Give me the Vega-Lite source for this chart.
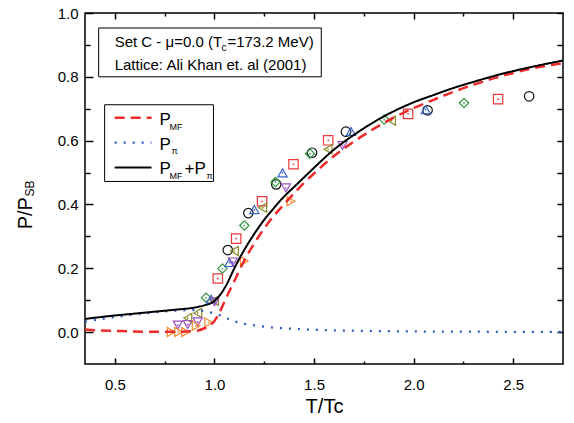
{
  "$schema": "https://vega.github.io/schema/vega-lite/v6.json",
  "width": 478,
  "height": 351,
  "autosize": {"type": "none"},
  "padding": {"left": 85, "top": 13, "right": 11, "bottom": 59},
  "background": "white",
  "config": {
    "view": {"stroke": "black", "strokeWidth": 1.5},
    "font": "Liberation Sans",
    "axis": {"grid": false, "domain": false, "labelFont": "Liberation Sans", "titleFont": "Liberation Sans", "labelColor": "black", "tickColor": "black", "titleColor": "black", "labelFontSize": 15, "tickWidth": 1.5, "titleFontWeight": "normal"}
  },
  "datasets": {
    "lattice": [
      {"T": 1.067, "P": 0.257, "set": "s1"}, {"T": 1.17, "P": 0.373, "set": "s1"}, {"T": 1.31, "P": 0.463, "set": "s1"}, {"T": 1.49, "P": 0.562, "set": "s1"}, {"T": 1.66, "P": 0.628, "set": "s1"}, {"T": 2.07, "P": 0.695, "set": "s1"}, {"T": 2.58, "P": 0.739, "set": "s1"},
      {"T": 1.017, "P": 0.168, "set": "s2"}, {"T": 1.109, "P": 0.293, "set": "s2"}, {"T": 1.239, "P": 0.41, "set": "s2"}, {"T": 1.397, "P": 0.526, "set": "s2"}, {"T": 1.571, "P": 0.601, "set": "s2"}, {"T": 1.972, "P": 0.684, "set": "s2"}, {"T": 2.424, "P": 0.73, "set": "s2"},
      {"T": 0.958, "P": 0.108, "set": "s3"}, {"T": 1.04, "P": 0.199, "set": "s3"}, {"T": 1.15, "P": 0.334, "set": "s3"}, {"T": 1.306, "P": 0.47, "set": "s3"}, {"T": 1.48, "P": 0.559, "set": "s3"}, {"T": 1.852, "P": 0.666, "set": "s3"}, {"T": 2.253, "P": 0.718, "set": "s3"},
      {"T": 0.983, "P": 0.103, "set": "s4"}, {"T": 1.075, "P": 0.218, "set": "s4"}, {"T": 1.2, "P": 0.384, "set": "s4"}, {"T": 1.342, "P": 0.499, "set": "s4"}, {"T": 1.685, "P": 0.629, "set": "s4"}, {"T": 2.061, "P": 0.697, "set": "s4"},
      {"T": 0.866, "P": 0.044, "set": "s5"}, {"T": 0.916, "P": 0.06, "set": "s5"}, {"T": 1.0, "P": 0.098, "set": "s5"}, {"T": 1.1, "P": 0.254, "set": "s5"}, {"T": 1.242, "P": 0.39, "set": "s5"}, {"T": 1.57, "P": 0.573, "set": "s5"}, {"T": 1.889, "P": 0.663, "set": "s5"},
      {"T": 0.816, "P": 0.022, "set": "s6"}, {"T": 0.866, "P": 0.024, "set": "s6"}, {"T": 0.916, "P": 0.032, "set": "s6"}, {"T": 1.0, "P": 0.095, "set": "s6"}, {"T": 1.092, "P": 0.22, "set": "s6"}, {"T": 1.359, "P": 0.452, "set": "s6"}, {"T": 1.643, "P": 0.585, "set": "s6"},
      {"T": 0.783, "P": 0.0, "set": "s7"}, {"T": 0.82, "P": 0.0, "set": "s7"}, {"T": 0.855, "P": 0.0, "set": "s7"}, {"T": 0.908, "P": 0.02, "set": "s7"}, {"T": 0.971, "P": 0.03, "set": "s7"}, {"T": 1.15, "P": 0.223, "set": "s7"}, {"T": 1.384, "P": 0.41, "set": "s7"}
    ],
    "curves": [
      {"T": 0.35, "P": 0.008, "s": "mf", "g": "c"}, {"T": 0.4, "P": 0.006, "s": "mf", "g": "c"}, {"T": 0.5, "P": 0.004, "s": "mf", "g": "c"}, {"T": 0.6, "P": 0.002, "s": "mf", "g": "c"}, {"T": 0.7, "P": 0.001, "s": "mf", "g": "c"}, {"T": 0.8, "P": 0.001, "s": "mf", "g": "c"}, {"T": 0.9, "P": 0.003, "s": "mf", "g": "c"}, {"T": 0.95, "P": 0.012, "s": "mf", "g": "c"}, {"T": 0.98, "P": 0.022, "s": "mf", "g": "c"}, {"T": 1.0, "P": 0.035, "s": "mf", "g": "c"}, {"T": 1.02, "P": 0.055, "s": "mf", "g": "c"}, {"T": 1.05, "P": 0.095, "s": "mf", "g": "c"}, {"T": 1.08, "P": 0.135, "s": "mf", "g": "c"}, {"T": 1.1, "P": 0.16, "s": "mf", "g": "c"}, {"T": 1.15, "P": 0.225, "s": "mf", "g": "c"}, {"T": 1.2, "P": 0.278, "s": "mf", "g": "c"}, {"T": 1.25, "P": 0.325, "s": "mf", "g": "c"}, {"T": 1.3, "P": 0.366, "s": "mf", "g": "c"}, {"T": 1.35, "P": 0.401, "s": "mf", "g": "c"}, {"T": 1.4, "P": 0.435, "s": "mf", "g": "c"}, {"T": 1.45, "P": 0.468, "s": "mf", "g": "c"}, {"T": 1.5, "P": 0.497, "s": "mf", "g": "c"}, {"T": 1.6, "P": 0.552, "s": "mf", "g": "c"}, {"T": 1.7, "P": 0.597, "s": "mf", "g": "c"}, {"T": 1.8, "P": 0.637, "s": "mf", "g": "c"}, {"T": 1.9, "P": 0.672, "s": "mf", "g": "c"}, {"T": 2.0, "P": 0.702, "s": "mf", "g": "c"}, {"T": 2.1, "P": 0.728, "s": "mf", "g": "c"}, {"T": 2.2, "P": 0.753, "s": "mf", "g": "c"}, {"T": 2.3, "P": 0.775, "s": "mf", "g": "c"}, {"T": 2.4, "P": 0.795, "s": "mf", "g": "c"}, {"T": 2.5, "P": 0.812, "s": "mf", "g": "c"}, {"T": 2.6, "P": 0.827, "s": "mf", "g": "c"}, {"T": 2.7, "P": 0.838, "s": "mf", "g": "c"}, {"T": 2.75, "P": 0.843, "s": "mf", "g": "c"},
      {"T": 0.35, "P": 0.033, "s": "pi", "g": "c"}, {"T": 0.4, "P": 0.038, "s": "pi", "g": "c"}, {"T": 0.5, "P": 0.047, "s": "pi", "g": "c"}, {"T": 0.6, "P": 0.055, "s": "pi", "g": "c"}, {"T": 0.7, "P": 0.062, "s": "pi", "g": "c"}, {"T": 0.8, "P": 0.067, "s": "pi", "g": "c"}, {"T": 0.9, "P": 0.069, "s": "pi", "g": "c"}, {"T": 0.95, "P": 0.066, "s": "pi", "g": "c"}, {"T": 1.0, "P": 0.058, "s": "pi", "g": "c"}, {"T": 1.03, "P": 0.052, "s": "pi", "g": "c"}, {"T": 1.07, "P": 0.041, "s": "pi", "g": "c"}, {"T": 1.1, "P": 0.034, "s": "pi", "g": "c"}, {"T": 1.15, "P": 0.026, "s": "pi", "g": "c"}, {"T": 1.2, "P": 0.021, "s": "pi", "g": "c"}, {"T": 1.3, "P": 0.014, "s": "pi", "g": "c"}, {"T": 1.4, "P": 0.01, "s": "pi", "g": "c"}, {"T": 1.5, "P": 0.007, "s": "pi", "g": "c"}, {"T": 1.75, "P": 0.004, "s": "pi", "g": "c"}, {"T": 2.0, "P": 0.002, "s": "pi", "g": "c"}, {"T": 2.5, "P": 0.001, "s": "pi", "g": "c"}, {"T": 2.75, "P": 0.001, "s": "pi", "g": "c"},
      {"T": 0.35, "P": 0.041, "s": "sum", "g": "c"}, {"T": 0.4, "P": 0.045, "s": "sum", "g": "c"}, {"T": 0.5, "P": 0.052, "s": "sum", "g": "c"}, {"T": 0.6, "P": 0.058, "s": "sum", "g": "c"}, {"T": 0.7, "P": 0.064, "s": "sum", "g": "c"}, {"T": 0.8, "P": 0.07, "s": "sum", "g": "c"}, {"T": 0.9, "P": 0.077, "s": "sum", "g": "c"}, {"T": 0.95, "P": 0.084, "s": "sum", "g": "c"}, {"T": 0.98, "P": 0.09, "s": "sum", "g": "c"}, {"T": 1.0, "P": 0.098, "s": "sum", "g": "c"}, {"T": 1.03, "P": 0.118, "s": "sum", "g": "c"}, {"T": 1.06, "P": 0.148, "s": "sum", "g": "c"}, {"T": 1.1, "P": 0.2, "s": "sum", "g": "c"}, {"T": 1.15, "P": 0.258, "s": "sum", "g": "c"}, {"T": 1.2, "P": 0.308, "s": "sum", "g": "c"}, {"T": 1.25, "P": 0.352, "s": "sum", "g": "c"}, {"T": 1.3, "P": 0.39, "s": "sum", "g": "c"}, {"T": 1.35, "P": 0.425, "s": "sum", "g": "c"}, {"T": 1.4, "P": 0.455, "s": "sum", "g": "c"}, {"T": 1.45, "P": 0.485, "s": "sum", "g": "c"}, {"T": 1.5, "P": 0.515, "s": "sum", "g": "c"}, {"T": 1.6, "P": 0.572, "s": "sum", "g": "c"}, {"T": 1.7, "P": 0.618, "s": "sum", "g": "c"}, {"T": 1.8, "P": 0.658, "s": "sum", "g": "c"}, {"T": 1.9, "P": 0.692, "s": "sum", "g": "c"}, {"T": 2.0, "P": 0.72, "s": "sum", "g": "c"}, {"T": 2.1, "P": 0.743, "s": "sum", "g": "c"}, {"T": 2.2, "P": 0.765, "s": "sum", "g": "c"}, {"T": 2.3, "P": 0.784, "s": "sum", "g": "c"}, {"T": 2.4, "P": 0.802, "s": "sum", "g": "c"}, {"T": 2.5, "P": 0.818, "s": "sum", "g": "c"}, {"T": 2.6, "P": 0.832, "s": "sum", "g": "c"}, {"T": 2.7, "P": 0.845, "s": "sum", "g": "c"}, {"T": 2.75, "P": 0.851, "s": "sum", "g": "c"},
      {"T": 0.499, "P": 0.672, "s": "mf", "g": "k"}, {"T": 0.684, "P": 0.672, "s": "mf", "g": "k"},
      {"T": 0.499, "P": 0.594, "s": "pi", "g": "k"}, {"T": 0.684, "P": 0.594, "s": "pi", "g": "k"},
      {"T": 0.499, "P": 0.516, "s": "sum", "g": "k"}, {"T": 0.684, "P": 0.516, "s": "sum", "g": "k"}
    ],
    "boxes": [
      {"T": 0.4185, "T2": 1.5363, "P": 0.953, "P2": 0.8},
      {"T": 0.4486, "T2": 0.995, "P": 0.7125, "P2": 0.472}
    ],
    "text15": [
      {"T": 0.499, "P": 0.8947, "text": "Set C - μ=0.0 (T"},
      {"T": 1.065, "P": 0.8947, "text": "=173.2 MeV)"},
      {"T": 0.499, "P": 0.822, "text": "Lattice: Ali Khan et. al (2001)"}
    ],
    "text10": [
      {"T": 1.035, "P": 0.881, "text": "c"}
    ],
    "text17": [
      {"T": 0.7243, "P": 0.65, "text": "P"},
      {"T": 0.7243, "P": 0.572, "text": "P"},
      {"T": 0.7243, "P": 0.494, "text": "P"},
      {"T": 0.8496, "P": 0.494, "text": "+"},
      {"T": 0.8997, "P": 0.494, "text": "P"}
    ],
    "text9": [
      {"T": 0.7744, "P": 0.634, "text": "MF"},
      {"T": 0.7845, "P": 0.559, "text": "π"},
      {"T": 0.7744, "P": 0.481, "text": "MF"},
      {"T": 0.9599, "P": 0.481, "text": "π"}
    ],
    "ytitle": [
      {"T": 0.0827, "P": 0.322, "text": "P/P"}
    ],
    "ytitlesub": [
      {"T": 0.0952, "P": 0.425, "text": "SB"}
    ]
  },
  "layer": [
    {
      "data": {"name": "lattice"},
      "mark": {"type": "point", "filled": false, "strokeWidth": 1.2, "opacity": 1},
      "encoding": {
        "x": {"field": "T", "type": "quantitative", "scale": {"domain": [0.35, 2.75], "nice": false, "zero": false},
          "axis": {"orient": "bottom", "values": [0.5, 1.0, 1.5, 2.0, 2.5], "format": ".1f", "tickSize": -6, "labelPadding": 19, "title": "T/Tc", "titleFontSize": 20, "titlePadding": 4}},
        "y": {"field": "P", "type": "quantitative", "scale": {"domain": [-0.1, 1.0], "nice": false, "zero": false},
          "axis": {"orient": "left", "values": [0, 0.2, 0.4, 0.6, 0.8, 1.0], "format": ".1f", "tickSize": -8, "labelPadding": 15, "title": null}},
        "color": {"field": "set", "type": "nominal", "legend": null, "scale": {"domain": ["s1", "s2", "s3", "s4", "s5", "s6", "s7"], "range": ["#111111", "#e8383a", "#2e9a3e", "#3a66c8", "#8a8a2a", "#9a4cc0", "#f58a2a"]}},
        "shape": {"field": "set", "type": "nominal", "legend": null, "scale": {"domain": ["s1", "s2", "s3", "s4", "s5", "s6", "s7"], "range": ["circle", "square", "diamond", "triangle-up", "triangle-left", "triangle-down", "triangle-right"]}},
        "size": {"field": "set", "type": "nominal", "legend": null, "scale": {"domain": ["s1", "s2", "s3", "s4", "s5", "s6", "s7"], "range": [90, 80, 130, 140, 140, 140, 140]}}
      }
    },
    {
      "data": {"name": "lattice"},
      "transform": [{"filter": "datum.set != 's1'"}],
      "mark": {"type": "point", "filled": true, "shape": "circle", "size": 3, "opacity": 1},
      "encoding": {
        "x": {"field": "T", "type": "quantitative", "scale": {"domain": [0.35, 2.75], "nice": false, "zero": false},
          "axis": {"orient": "bottom", "values": [0.75, 1.25, 1.75, 2.25], "labels": false, "tickSize": -3, "title": null}},
        "y": {"field": "P", "type": "quantitative", "scale": {"domain": [-0.1, 1.0], "nice": false, "zero": false},
          "axis": {"orient": "left", "values": [0.1, 0.3, 0.5, 0.7, 0.9], "labels": false, "tickSize": -5, "title": null}},
        "color": {"field": "set", "type": "nominal", "legend": null}
      }
    },
    {
      "data": {"name": "curves"},
      "mark": {"type": "line", "interpolate": "monotone"},
      "encoding": {
        "x": {"field": "T", "type": "quantitative", "scale": {"domain": [0.35, 2.75], "nice": false, "zero": false},
          "axis": {"orient": "top", "values": [0.5, 1.0, 1.5, 2.0, 2.5], "labels": false, "tickSize": -6, "title": null}},
        "y": {"field": "P", "type": "quantitative", "scale": {"domain": [-0.1, 1.0], "nice": false, "zero": false},
          "axis": {"orient": "right", "values": [0, 0.1, 0.2, 0.3, 0.4, 0.5, 0.6, 0.7, 0.8, 0.9, 1.0], "labels": false, "tickSize": -6, "title": null}},
        "detail": {"field": "g"},
        "stroke": {"field": "s", "type": "nominal", "legend": null, "scale": {"domain": ["mf", "pi", "sum"], "range": ["#ee2a2a", "#2a5cb8", "#000000"]}},
        "strokeDash": {"field": "s", "type": "nominal", "legend": null, "scale": {"domain": ["mf", "pi", "sum"], "range": [[10, 6], [2, 7], [1, 0]]}},
        "strokeWidth": {"field": "s", "type": "nominal", "legend": null, "scale": {"domain": ["mf", "pi", "sum"], "range": [2.5, 2, 2.5]}}
      }
    },
    {
      "data": {"name": "boxes"},
      "mark": {"type": "rect", "fill": "none", "stroke": "black", "strokeWidth": 1},
      "encoding": {
        "x": {"field": "T", "type": "quantitative", "scale": {"domain": [0.35, 2.75], "nice": false, "zero": false},
          "axis": {"orient": "top", "values": [0.75, 1.25, 1.75, 2.25], "labels": false, "tickSize": -3, "title": null}},
        "x2": {"field": "T2"},
        "y": {"field": "P", "type": "quantitative", "scale": {"domain": [-0.1, 1.0], "nice": false, "zero": false}, "axis": null},
        "y2": {"field": "P2"}
      }
    },
    {
      "data": {"name": "text15"},
      "mark": {"type": "text", "fontSize": 15, "align": "left", "baseline": "alphabetic", "font": "Liberation Sans"},
      "encoding": {
        "x": {"field": "T", "type": "quantitative", "axis": null},
        "y": {"field": "P", "type": "quantitative", "axis": null},
        "text": {"field": "text"}
      }
    },
    {
      "data": {"name": "text10"},
      "mark": {"type": "text", "fontSize": 10, "align": "left", "baseline": "alphabetic", "font": "Liberation Sans"},
      "encoding": {
        "x": {"field": "T", "type": "quantitative", "axis": null},
        "y": {"field": "P", "type": "quantitative", "axis": null},
        "text": {"field": "text"}
      }
    },
    {
      "data": {"name": "text17"},
      "mark": {"type": "text", "fontSize": 17, "align": "left", "baseline": "alphabetic", "font": "Liberation Sans"},
      "encoding": {
        "x": {"field": "T", "type": "quantitative", "axis": null},
        "y": {"field": "P", "type": "quantitative", "axis": null},
        "text": {"field": "text"}
      }
    },
    {
      "data": {"name": "text9"},
      "mark": {"type": "text", "fontSize": 9, "align": "left", "baseline": "alphabetic", "font": "Liberation Sans"},
      "encoding": {
        "x": {"field": "T", "type": "quantitative", "axis": null},
        "y": {"field": "P", "type": "quantitative", "axis": null},
        "text": {"field": "text"}
      }
    },
    {
      "data": {"name": "ytitle"},
      "mark": {"type": "text", "fontSize": 20, "align": "left", "baseline": "alphabetic", "angle": 270, "font": "Liberation Sans"},
      "encoding": {
        "x": {"field": "T", "type": "quantitative", "axis": null},
        "y": {"field": "P", "type": "quantitative", "axis": null},
        "text": {"field": "text"}
      }
    },
    {
      "data": {"name": "ytitlesub"},
      "mark": {"type": "text", "fontSize": 12, "align": "left", "baseline": "alphabetic", "angle": 270, "font": "Liberation Sans"},
      "encoding": {
        "x": {"field": "T", "type": "quantitative", "axis": null},
        "y": {"field": "P", "type": "quantitative", "axis": null},
        "text": {"field": "text"}
      }
    }
  ],
  "resolve": {"axis": {"x": "independent", "y": "independent"}}
}
